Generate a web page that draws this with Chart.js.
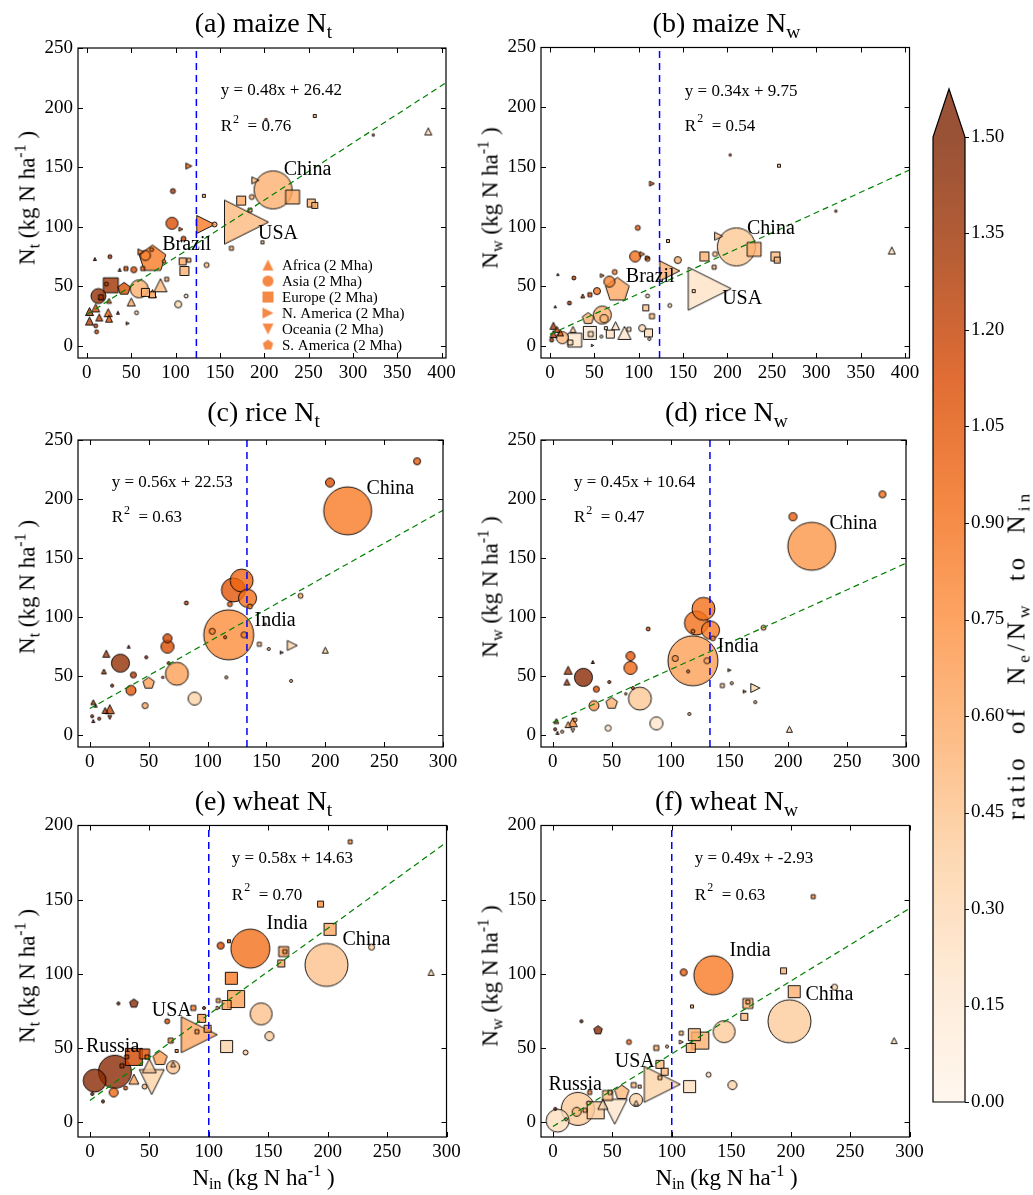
<!DOCTYPE html>
<html><head><meta charset="utf-8">
<script src="https://cdn.jsdelivr.net/npm/chart.js@4.4.1/dist/chart.umd.min.js"></script>
<style>
html,body{margin:0;padding:0;background:#fff;}
#fig{position:relative;width:1033px;height:1195px;overflow:hidden;font-family:"Liberation Serif","Times New Roman",serif;color:#000;}
canvas{position:absolute;}
.txt{position:absolute;white-space:nowrap;line-height:1;transform:translate(-50%,-50%);}
.rot{transform:translate(-50%,-50%) rotate(-90deg);}
.title{font-size:28px;}
.lab{font-size:23px;}
.cbl{font-size:25px;letter-spacing:4px;word-spacing:10px;}
sub{font-size:70%;vertical-align:-0.3em;line-height:0;}
sup{font-size:70%;vertical-align:0.55em;line-height:0;}
</style></head><body><div id="fig"></div>
<script>
// ---------------- DATA ----------------
// rows: [region, N_in, N_t or N_w, harvested area (Mha), ratio]
const maizeNt = [
 ['AS',210,131,23.9,0.55],['NA',180,104,32,0.5],['SA',74,73,13,0.85],['NA',134,102,5.4,0.85],
 ['EU',232,125,3.2,0.6],['EU',174,122,1.34,0.6],['EU',253,120,1.06,0.55],['EU',257,118,0.6,0.55],
 ['AS',186,125,0.41,0.6],['NA',190,139,0.81,0.5],['AS',144,102,0.41,0.65],['EU',184,114,0.26,0.6],
 ['EU',163,82,0.26,0.55],['EU',198,87,0.15,0.55],['AS',96,103,2.4,1.1],['NA',115,151,0.6,1.0],
 ['AS',97,130,0.41,1.3],['NA',106,98,0.26,0.95],['AS',109,90,0.41,1.2],['EU',132,126,0.15,0.6],
 ['EU',257,193,0.15,0.6],['AS',202,190,0.07,1.3],['AS',323,177,0.07,1.3],['AF',385,180,0.81,0.35],
 ['EU',108,71,0.81,0.6],['EU',110,63,1.34,0.55],['EU',115,72,0.26,0.6],['AS',135,68,0.41,0.5],
 ['AS',103,35,0.81,0.3],['AS',112,42,0.26,0.3],['AF',83,51,2.8,0.5],['EU',90,56,0.26,0.6],
 ['AS',59,48,5.4,0.55],['EU',66,45,1.06,0.55],['EU',74,43,0.6,0.55],['SA',42,48,2.8,1.1],
 ['EU',27,51,3.7,1.35],['AS',13,42,3.7,1.4],['AS',66,76,1.65,0.8],['NA',61,79,0.6,0.9],
 ['AS',73,81,0.26,0.9],['AS',53,64,0.6,1.1],['EU',44,65,0.26,1.1],['AF',37,64,0.15,1.3],
 ['AS',26,75,0.26,1.3],['AF',9,73,0.15,1.3],['EU',63,65,0.26,0.9],['SA',87,71,0.26,0.8],
 ['AF',3,29,1.06,1.3],['AF',3,21,1.06,1.25],['AF',10,32,1.06,1.1],['AF',14,24,0.81,1.2],
 ['AF',24,28,1.06,1.0],['AF',25,23,0.81,1.1],['AS',11,12,0.26,1.1],['AS',10,17,0.26,1.2],
 ['AF',50,37,1.06,0.6],['AF',74,44,1.06,0.55],['AS',56,28,0.26,0.4],['NA',46,19,0.15,0.9],
 ['AF',35,28,0.15,1.2],['AS',22,52,0.26,1.2],['AF',16,41,0.41,1.2],['AF',25,38,0.41,1.0],
 ['EU',16,41,0.41,1.3]
];
const maizeNw = [
 ['AS',210,83,23.9,0.42],['NA',180,48,30.5,0.22],['SA',76,47,10.3,0.6],['NA',135,63,6.6,0.55],
 ['EU',230,81,3.2,0.55],['EU',174,75,1.34,0.55],['EU',254,75,1.34,0.5],['EU',256,72,0.6,0.5],
 ['AS',186,77,0.41,0.5],['NA',190,92,1.06,0.5],['EU',185,66,0.26,0.55],['AS',144,72,0.81,0.55],
 ['AS',96,75,2.0,0.9],['NA',104,77,0.41,0.85],['NA',110,74,0.26,0.9],['AS',110,73,0.41,0.9],
 ['NA',115,136,0.41,1.1],['AS',99,99,0.41,1.0],['EU',133,88,0.15,0.6],['AS',203,160,0.07,1.3],
 ['EU',258,151,0.15,0.6],['AS',322,113,0.07,1.3],['AF',385,80,0.81,0.3],['EU',162,46,0.15,0.3],
 ['AS',135,34,0.26,0.3],['AS',67,54,2.0,0.8],['NA',59,59,0.26,0.8],['AS',73,62,0.41,0.85],
 ['AS',53,46,0.81,0.9],['EU',45,43,0.26,1.1],['AF',37,42,0.26,1.2],['AS',27,57,0.26,1.2],
 ['AS',22,36,0.26,1.3],['AF',9,60,0.07,1.4],['AF',6,33,0.07,1.4],['AS',59,26,5.4,0.55],
 ['AS',61,23,1.06,0.5],['SA',43,23,2.4,0.55],['EU',108,32,0.6,0.45],['EU',115,25,0.41,0.5],
 ['AS',110,42,0.26,0.3],['AS',104,15,0.81,0.3],['EU',111,11,1.06,0.3],['AS',112,6,0.15,0.3],
 ['AF',84,11,2.8,0.2],['AF',74,17,1.06,0.25],['EU',68,10,1.06,0.25],['EU',63,15,0.15,0.3],
 ['EU',45,11,2.8,0.15],['EU',46,10,0.41,0.3],['EU',28,5,3.2,0.2],['AS',14,7,2.4,0.5],
 ['EU',23,3,0.41,0.3],['AF',4,17,0.81,1.3],['AF',4,10,0.81,1.3],['AF',8,14,0.6,1.2],
 ['AF',12,11,0.6,1.1],['AS',2,5,0.26,1.3],['AS',58,8,0.15,0.3],['NA',48,0.5,0.07,0.5],
 ['AF',26,14,0.6,0.4],['EU',89,14,0.26,0.3]
];
const riceNt = [
 ['AS',219,190,38,0.85],['AS',204,214,1.34,1.1],['AS',278,232,0.81,1.0],['AS',118,85,41.3,0.75],
 ['AS',129,131,8.7,0.95],['AS',122,123,9.5,1.05],['AS',134,116,5.4,0.9],['AS',119,111,0.41,1.0],
 ['AS',136,109,0.41,0.85],['AS',104,88,0.6,0.8],['AS',131,85,0.6,0.8],['AS',115,83,0.15,0.9],
 ['AS',82,112,0.26,1.2],['AS',179,118,0.41,0.6],['NA',172,76,1.65,0.35],['AF',200,72,0.6,0.4],
 ['EU',144,77,0.26,0.5],['AS',152,73,0.15,0.5],['NA',163,70,0.15,0.8],['AS',171,46,0.15,0.5],
 ['AS',116,49,0.15,0.6],['AS',149,94,0.07,1.2],['AS',74,52,8.7,0.65],['AS',89,31,2.8,0.35],
 ['AS',66,82,1.34,1.15],['AS',66,75,2.8,1.1],['AS',26,61,5.4,1.4],['AF',14,69,0.81,1.3],
 ['AF',12,54,0.41,1.3],['AF',33,75,0.15,1.4],['AS',37,51,0.6,1.25],['AS',35,38,1.65,1.05],
 ['SA',50,44,2.4,0.65],['AS',47,25,0.6,0.6],['AS',48,66,0.15,1.3],['AS',19,42,0.15,1.3],
 ['AS',67,61,0.15,1.2],['AS',62,49,0.07,1.2],['AF',17,22,1.34,1.2],['AF',13,21,0.6,1.3],
 ['AF',3,28,0.41,1.3],['AF',5,25,0.15,1.2],['AS',2,16,0.15,1.3],['AF',3,12,0.15,1.3],
 ['AS',8,14,0.15,1.2],['OC',17,15,0.26,1.2]
];
const riceNw = [
 ['AS',220,160,38,0.7],['AS',204,185,1.06,1.0],['AS',280,204,0.81,0.9],['AS',119,63,41.3,0.65],
 ['AS',128,107,8.7,0.9],['AS',122,95,9.5,0.9],['AS',134,89,5.4,0.85],['AS',119,88,0.26,0.9],
 ['AS',136,82,0.41,0.8],['AS',104,65,0.6,0.7],['AS',131,63,0.6,0.6],['AS',115,54,0.15,0.8],
 ['AS',81,90,0.26,1.1],['AS',179,91,0.41,0.6],['NA',172,40,1.34,0.35],['AF',201,5,0.6,0.3],
 ['EU',144,42,0.26,0.4],['AS',152,44,0.15,0.5],['NA',150,55,0.15,0.6],['NA',163,37,0.15,0.8],
 ['AS',172,28,0.15,0.5],['AS',116,18,0.15,0.5],['AS',74,31,8.7,0.42],['AS',88,10,2.8,0.2],
 ['AS',66,67,1.34,1.05],['AS',66,57,2.8,0.95],['AS',26,49,5.4,1.45],['AF',13,55,1.06,1.3],
 ['AF',12,45,0.6,1.3],['AF',34,62,0.15,1.4],['AS',37,39,0.6,1.1],['AS',35,25,1.65,0.7],
 ['SA',50,27,2.4,0.55],['AS',47,6,0.6,0.2],['AS',48,45,0.15,1.2],['AS',68,40,0.15,1.0],
 ['AS',62,35,0.07,1.2],['AF',17,11,1.34,0.75],['AF',13,9,0.6,0.6],['AF',3,12,0.41,1.3],
 ['AS',2,5,0.15,1.3],['AF',4,2,0.15,1.2],['AS',8,3,0.15,0.5],['OC',17,4,0.26,0.5],
 ['AS',19,13,0.26,0.7]
];
const wheatNt = [
 ['AS',199,106,30.5,0.45],['AS',135,117,25.1,0.9],['NA',92,59,21.4,0.6],['AS',21,34,18,1.45],
 ['AS',4,28,8.7,1.45],['EU',202,130,2.4,0.6],['EU',194,147,0.6,0.75],['EU',219,189,0.26,0.75],
 ['AS',237,118,0.6,0.4],['AF',287,101,0.6,0.35],['EU',163,115,1.65,0.65],['EU',164,115,0.26,0.7],
 ['EU',161,107,0.81,0.65],['EU',119,97,2.4,0.85],['EU',123,83,4.8,0.65],['EU',115,79,1.34,0.65],
 ['EU',108,82,0.26,0.7],['NA',108,77,0.26,0.6],['AS',144,73,8.0,0.45],['AS',151,58,1.34,0.4],
 ['AS',131,47,0.41,0.4],['EU',115,51,2.4,0.35],['AS',110,119,0.81,1.1],['EU',117,122,0.15,1.1],
 ['EU',87,77,0.41,0.85],['AS',96,77,0.15,1.4],['SA',37,80,1.34,1.45],['AS',24,80,0.15,1.45],
 ['AS',65,68,0.41,1.1],['EU',94,70,1.06,0.7],['EU',99,63,0.81,0.7],['EU',90,61,0.26,0.7],
 ['EU',68,55,0.41,0.8],['EU',73,48,0.15,0.8],['EU',37,44,4.8,1.15],['EU',46,46,1.65,1.1],
 ['EU',48,44,0.26,1.0],['EU',31,44,0.26,1.3],['EU',27,38,0.26,1.3],['SA',59,43,3.7,0.65],
 ['AS',70,37,2.8,0.45],['OC',52,27,10.3,0.35],['AF',37,29,1.65,0.6],['AS',20,20,1.34,0.95],
 ['AS',11,14,0.15,1.4],['AS',2,19,0.15,1.4],['AS',30,23,0.26,1.0],['AS',46,24,0.41,0.5],
 ['AF',50,38,3.2,0.4],['AF',70,39,0.41,0.4]
];
const wheatNw = [
 ['AS',199,68,30.5,0.4],['AS',135,99,25.1,0.85],['NA',92,25.5,21.4,0.35],['AS',21,9,18,0.4],
 ['AS',4,1,8.7,0.25],['EU',203,88,2.4,0.55],['EU',194,102,0.6,0.55],['EU',219,152,0.26,0.75],
 ['AS',237,91,0.6,0.35],['AF',287,55,0.6,0.3],['EU',164,80,1.65,0.55],['EU',164,81,0.26,0.6],
 ['EU',161,71,0.81,0.5],['EU',119,59,2.4,0.55],['EU',124,55,4.8,0.55],['EU',116,50,1.34,0.55],
 ['EU',108,60,0.26,0.5],['NA',108,54,0.26,0.45],['AS',144,61,8.0,0.4],['AS',151,25,1.34,0.35],
 ['AS',131,32,0.41,0.3],['EU',115,24,2.4,0.25],['AS',110,101,0.81,1.0],['EU',117,78,0.15,0.6],
 ['EU',87,50,0.41,0.6],['AS',96,51,0.15,0.5],['SA',38,62,1.34,1.45],['AS',24,68,0.15,1.45],
 ['AS',64,54,0.41,0.95],['EU',90,39,1.06,0.5],['EU',94,34,0.81,0.5],['EU',90,30,0.26,0.5],
 ['EU',68,25,0.41,0.5],['EU',73,24,0.15,0.5],['EU',36,8,4.8,0.4],['EU',46,18,1.65,0.5],
 ['EU',48,20,0.26,0.5],['EU',31,20,0.26,0.8],['EU',27,8,0.26,0.6],['SA',58,20,3.7,0.5],
 ['AS',70,15,2.8,0.35],['OC',52,7,10.3,0.2],['AF',42,12,1.65,0.3],['AS',20,7,1.34,0.5],
 ['AS',11,2,0.15,0.4],['AS',2,9,0.15,1.4],['AS',30,13,0.26,0.4],['AF',70,13,0.41,0.3]
];
const xTicksMaize = [0,50,100,150,200,250,300,350,400];
const xTicksRW = [0,50,100,150,200,250,300];
const yTicks250 = [0,50,100,150,200,250];
const yTicks200 = [0,50,100,150,200];
const cbTicks = [0,0.15,0.30,0.45,0.60,0.75,0.90,1.05,1.20,1.35,1.50];
const fitSlopes = [0.48,0.34,0.56,0.45,0.58,0.49];
const fitIntercepts = [26.42,9.75,22.53,10.64,14.63,-2.93];
const fitR2 = ['0.76','0.54','0.63','0.47','0.70','0.63'];
const thresholds = [123.5,123.5,133.5,133.5,100,100];
const legendLabels = ['Africa (2 Mha)','Asia (2 Mha)','Europe (2 Mha)','N. America (2 Mha)','Oceania (2 Mha)','S. America (2 Mha)'];
const legendRegions = ['AF','AS','EU','NA','OC','SA'];

// ---------------- HELPERS ----------------
const FONT = '"Liberation Serif","Times New Roman",serif';
const OR = [[255,245,235],[254,230,206],[253,208,162],[253,174,107],[253,141,60],[241,105,19],[217,72,1],[166,54,3],[127,39,4]];
const CMAX = 1.5, ALPHA = 0.8;
function cmap(t){t=Math.max(0,Math.min(1,t));const f=t*8;const i=Math.min(7,Math.floor(f));const u=f-i;return OR[i].map((c,k)=>c+(OR[i+1][k]-c)*u);}
function rgba(c,a){return `rgba(${Math.round(c[0])},${Math.round(c[1])},${Math.round(c[2])},${a})`;}
function blendWhite(c,a){return c.map(v=>v*a+255*(1-a));}
function sizeFromArea(a){return Math.max(2.4, 7.78*Math.sqrt(a));}
const cache = {};
function shapePath(g, shape, cx, cy, s){
  const h=s/2; g.beginPath();
  if(shape==='AS'){g.arc(cx,cy,h,0,Math.PI*2);}
  else if(shape==='EU'){g.rect(cx-h,cy-h,s,s);}
  else if(shape==='AF'){g.moveTo(cx,cy-h);g.lineTo(cx-h,cy+h);g.lineTo(cx+h,cy+h);g.closePath();}
  else if(shape==='OC'){g.moveTo(cx,cy+h);g.lineTo(cx-h,cy-h);g.lineTo(cx+h,cy-h);g.closePath();}
  else if(shape==='NA'){g.moveTo(cx+h,cy);g.lineTo(cx-h,cy-h);g.lineTo(cx-h,cy+h);g.closePath();}
  else { for(let k=0;k<5;k++){const an=-Math.PI/2+k*2*Math.PI/5;const px=cx+h*Math.cos(an),py=cy+h*Math.sin(an);k?g.lineTo(px,py):g.moveTo(px,py);} g.closePath(); }
}
function marker(shape, s, fill, edge){
  const key=shape+'|'+s.toFixed(2)+'|'+fill+'|'+edge;
  if(cache[key]) return cache[key];
  const dim=Math.ceil(s+4); const c=document.createElement('canvas'); c.width=dim; c.height=dim;
  const g=c.getContext('2d'); shapePath(g,shape,dim/2,dim/2,s);
  g.fillStyle=fill; g.fill();
  if(edge){g.lineWidth=0.9; g.strokeStyle=edge; g.stroke();}
  cache[key]=c; return c;
}
const fig = document.getElementById('fig');
function addCanvas(l,t,w,h){const c=document.createElement('canvas');c.width=w;c.height=h;c.style.left=l+'px';c.style.top=t+'px';c.style.width=w+'px';c.style.height=h+'px';fig.appendChild(c);return c;}
function addText(html,cx,cy,cls){const d=document.createElement('div');d.className='txt '+cls;d.innerHTML=html;d.style.left=cx+'px';d.style.top=cy+'px';fig.appendChild(d);}

// ---------------- PANELS ----------------
const panels = [
 {rows:maizeNt, box:[78,37,321], xMax:405, xt:xTicksMaize, yMin:-10, yMax:250, yt:yTicks250, eqPos:[151,214], r2Pos:[151,184], labels:[['China',222,147.5],['USA',193,94],['Brazil',85,85]], legend:true,
  title:'(a) maize N<sub>t</sub>', ylab:'N<sub>t</sub> (kg N ha<sup>-1</sup> )'},
 {rows:maizeNw, box:[541,37,321], xMax:405, xt:xTicksMaize, yMin:-10, yMax:250, yt:yTicks250, eqPos:[152,213], r2Pos:[152,184], labels:[['China',222,98],['USA',194,39.6],['Brazil',85.5,58]],
  title:'(b) maize N<sub>w</sub>', ylab:'N<sub>w</sub> (kg N ha<sup>-1</sup> )'},
 {rows:riceNt, box:[78,426,321], xMax:300, xt:xTicksRW, yMin:-10, yMax:250, yt:yTicks250, eqPos:[18.6,214], r2Pos:[18.6,184], labels:[['China',235,209],['India',140,97]],
  title:'(c) rice N<sub>t</sub>', ylab:'N<sub>t</sub> (kg N ha<sup>-1</sup> )'},
 {rows:riceNw, box:[541,426,321], xMax:300, xt:xTicksRW, yMin:-10, yMax:250, yt:yTicks250, eqPos:[18,214], r2Pos:[18,184], labels:[['China',235,179],['India',140,75]],
  title:'(d) rice N<sub>w</sub>', ylab:'N<sub>w</sub> (kg N ha<sup>-1</sup> )'},
 {rows:wheatNt, box:[78,815,322], xMax:300, xt:xTicksRW, yMin:-10, yMax:200, yt:yTicks200, eqPos:[119.4,178], r2Pos:[119.4,153], labels:[['India',148.6,133.5],['China',212.5,123],['USA',52,75],['Russia',-3.3,51]],
  title:'(e) wheat N<sub>t</sub>', ylab:'N<sub>t</sub> (kg N ha<sup>-1</sup> )', xlab:true},
 {rows:wheatNw, box:[541,815,322], xMax:300, xt:xTicksRW, yMin:-10, yMax:200, yt:yTicks200, eqPos:[119.4,178], r2Pos:[119.4,153], labels:[['India',148.6,115.7],['China',212.5,85.6],['USA',52,41],['Russia',-3.6,25]],
  title:'(f) wheat N<sub>w</sub>', ylab:'N<sub>w</sub> (kg N ha<sup>-1</sup> )', xlab:true}
];

function makeDeco(p, idx){
  return {id:'deco'+idx, afterDatasetsDraw(chart){
    const {ctx, chartArea:a, scales:{x,y}} = chart;
    ctx.save();
    ctx.strokeStyle='#000'; ctx.lineWidth=1.2;
    ctx.strokeRect(a.left, a.top, a.right-a.left, a.bottom-a.top);
    ctx.lineWidth=1; ctx.beginPath();
    p.xt.forEach(v=>{const px=Math.round(x.getPixelForValue(v))+0.5;ctx.moveTo(px,a.bottom);ctx.lineTo(px,a.bottom-5);ctx.moveTo(px,a.top);ctx.lineTo(px,a.top+5);});
    p.yt.forEach(v=>{const py=Math.round(y.getPixelForValue(v))+0.5;ctx.moveTo(a.left,py);ctx.lineTo(a.left+5,py);ctx.moveTo(a.right,py);ctx.lineTo(a.right-5,py);});
    ctx.stroke();
    ctx.fillStyle='#000'; ctx.textBaseline='middle'; ctx.textAlign='left';
    const m=fitSlopes[idx], b=fitIntercepts[idx];
    ctx.font='17px '+FONT;
    ctx.fillText('y = '+m.toFixed(2)+'x + '+b.toFixed(2), x.getPixelForValue(p.eqPos[0]), y.getPixelForValue(p.eqPos[1]));
    let rx=x.getPixelForValue(p.r2Pos[0]), ry=y.getPixelForValue(p.r2Pos[1]);
    ctx.fillText('R', rx, ry); const wR=ctx.measureText('R').width;
    ctx.font='12px '+FONT; ctx.fillText('2', rx+wR+1, ry-7);
    ctx.font='17px '+FONT; ctx.fillText('  = '+fitR2[idx], rx+wR+7, ry);
    ctx.font='20px '+FONT;
    p.labels.forEach(([t,lx,ly])=>ctx.fillText(t, x.getPixelForValue(lx), y.getPixelForValue(ly)));
    if(p.legend){
      ctx.font='15px '+FONT;
      const col=rgba(cmap(0.62),ALPHA);
      legendRegions.forEach((r,i)=>{
        const cy=a.top+217+16*i;
        const mk=marker(r,11,col,null);
        ctx.drawImage(mk, a.left+190-mk.width/2, cy-mk.height/2);
        ctx.fillText(legendLabels[i], a.left+204, cy+1);
      });
    }
    ctx.restore();
  }};
}

panels.forEach((p,idx)=>{
  const [bl,bt,bh]=p.box; const bw=371;
  const padT=12, padR=20, yW=60, xH=40;
  const cw=yW+bw+padR, ch=padT+bh+xH;
  const cv=addCanvas(bl-yW, bt-padT, cw, ch);
  const rows=[...p.rows].sort((u,v)=>v[3]-u[3]);
  const pts=rows.map(r=>({x:r[1],y:r[2]}));
  const styles=rows.map(r=>marker(r[0], sizeFromArea(r[3]), rgba(cmap(r[4]/CMAX),ALPHA), '#000'));
  const radii=rows.map(r=>sizeFromArea(r[3])/2);
  const m=fitSlopes[idx], b=fitIntercepts[idx];
  const tickFont={family:FONT,size:19};
  new Chart(cv,{
    type:'scatter',
    data:{datasets:[
      {data:[{x:0,y:b},{x:p.xMax,y:m*p.xMax+b}], showLine:true, borderColor:'#008000', borderWidth:1.2, borderDash:[6,4], pointRadius:0, order:0},
      {data:[{x:thresholds[idx],y:p.yMin},{x:thresholds[idx],y:p.yMax}], showLine:true, borderColor:'#0000ff', borderWidth:1.5, borderDash:[7,5], pointRadius:0, order:0},
      {data:pts, pointStyle:styles, pointRadius:radii, pointHoverRadius:radii, order:1, clip:false}
    ]},
    options:{
      responsive:false, maintainAspectRatio:false, animation:false, devicePixelRatio:1, events:[],
      layout:{padding:{left:0,top:padT,right:padR,bottom:0}},
      plugins:{legend:{display:false}, tooltip:{enabled:false}},
      scales:{
        x:{type:'linear', min:-10, max:p.xMax,
           afterBuildTicks:s=>{s.ticks=p.xt.map(v=>({value:v}));},
           afterFit:s=>{s.height=xH;},
           grid:{display:false, drawTicks:false}, border:{display:false},
           ticks:{font:tickFont, color:'#000', padding:4, maxRotation:0, autoSkip:false, callback:v=>String(v)}},
        y:{type:'linear', min:p.yMin, max:p.yMax,
           afterBuildTicks:s=>{s.ticks=p.yt.map(v=>({value:v}));},
           afterFit:s=>{s.width=yW;},
           grid:{display:false, drawTicks:false}, border:{display:false},
           ticks:{font:tickFont, color:'#000', padding:5, autoSkip:false, callback:v=>String(v)}}
      }
    },
    plugins:[makeDeco(p,idx)]
  });
  addText(p.title, bl+bw/2, bt-14, 'title');
  addText(p.ylab, bl-51, bt+bh/2, 'lab rot');
  if(p.xlab) addText('N<sub>in</sub> (kg N ha<sup>-1</sup> )', bl+bw/2, 1177, 'lab');
});

// ---------------- COLORBAR ----------------
(function(){
  const cv=addCanvas(920,80,113,1040);
  const cbPlugin={id:'cbdeco', afterDatasetsDraw(chart){
    const {ctx, chartArea:a, scales:{y}}=chart;
    ctx.save();
    const top=rgba(blendWhite(cmap(1),ALPHA),1);
    ctx.beginPath(); ctx.moveTo(a.left,a.top); ctx.lineTo((a.left+a.right)/2, a.top-48); ctx.lineTo(a.right,a.top); ctx.closePath();
    ctx.fillStyle=top; ctx.fill();
    ctx.beginPath(); ctx.moveTo(a.left,a.bottom); ctx.lineTo(a.left,a.top); ctx.lineTo((a.left+a.right)/2, a.top-48); ctx.lineTo(a.right,a.top); ctx.lineTo(a.right,a.bottom); ctx.closePath();
    ctx.strokeStyle='#000'; ctx.lineWidth=1.2; ctx.stroke();
    ctx.lineWidth=1; ctx.beginPath();
    cbTicks.forEach(v=>{const py=Math.round(y.getPixelForValue(v))+0.5; ctx.moveTo(a.right,py); ctx.lineTo(a.right+4,py);});
    ctx.stroke(); ctx.restore();
  }};
  new Chart(cv,{
    type:'bar',
    data:{labels:[''], datasets:[{data:[CMAX], barPercentage:1, categoryPercentage:1, borderWidth:0,
      backgroundColor:(ctx)=>{const ch=ctx.chart; const a=ch.chartArea; if(!a) return '#fff';
        const g=ch.ctx.createLinearGradient(0,a.bottom,0,a.top);
        for(let i=0;i<=32;i++){g.addColorStop(i/32, rgba(blendWhite(cmap(i/32),ALPHA),1));}
        return g;}}]},
    options:{
      responsive:false, maintainAspectRatio:false, animation:false, devicePixelRatio:1, events:[],
      layout:{padding:{left:13,top:57,right:0,bottom:18}},
      plugins:{legend:{display:false}, tooltip:{enabled:false}},
      scales:{
        x:{display:false},
        y:{position:'right', min:0, max:CMAX,
           afterBuildTicks:s=>{s.ticks=cbTicks.map(v=>({value:v}));},
           afterFit:s=>{s.width=68;},
           grid:{display:false, drawTicks:false}, border:{display:false},
           ticks:{font:{family:FONT,size:19}, color:'#000', padding:6, autoSkip:false, callback:v=>Number(v).toFixed(2)}}
      }
    },
    plugins:[cbPlugin]
  });
  addText('ratio of N<sub>e</sub>/N<sub>w</sub> to N<sub>in</sub>', 1016, 655, 'cbl rot');
})();
</script></body></html>
